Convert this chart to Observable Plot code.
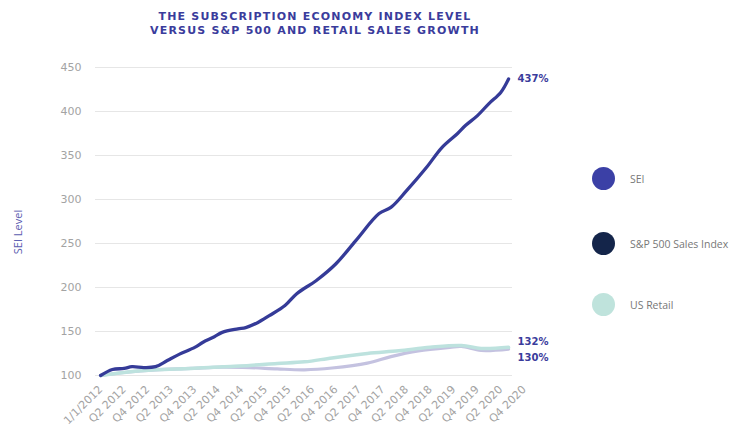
<!DOCTYPE html>
<html>
<head>
<meta charset="utf-8">
<script src="https://cdn.jsdelivr.net/npm/d3@7"></script>
<script src="https://cdn.jsdelivr.net/npm/@observablehq/plot@0.6"></script>
<style>
  html, body { margin: 0; padding: 0; background: #fff; }
  #wrap { position: relative; width: 730px; height: 435px; overflow: hidden; }
  #title { position: absolute; top: 10px; left: 0; width: 630px; text-align: center;
    font-family: "DejaVu Sans", sans-serif; font-weight: 900; font-size: 11px; line-height: 14px;
    letter-spacing: 1.2px; color: #3a3c9c; }
  #chart { position: absolute; top: 40px; left: 0; }
  #ytitle { position: absolute; left: 17px; top: 232px; transform: translate(-50%, -50%) rotate(-90deg);
    font-family: "Open Sans", sans-serif; font-size: 11px; color: #5a5cb0; white-space: nowrap; }
  .leg { position: absolute; left: 592px; display: flex; align-items: center;
    font-family: "Open Sans", sans-serif; font-size: 10.5px; color: #777; white-space: nowrap; }
  .leg span.dot { display: inline-block; width: 23px; height: 23px; border-radius: 50%; margin-right: 15px; }
</style>
</head>
<body>
<div id="wrap">
  <div id="title">THE SUBSCRIPTION ECONOMY INDEX LEVEL<br>VERSUS S&amp;P 500 AND RETAIL SALES GROWTH</div>
  <div id="chart"></div>
  <div id="ytitle">SEI Level</div>
  <div id="legend"></div>
</div>
<script>
// x values are months since 1/1/2012
const xLabels = ["1/1/2012","Q2 2012","Q4 2012","Q2 2013","Q4 2013","Q2 2014","Q4 2014","Q2 2015","Q4 2015",
  "Q2 2016","Q4 2016","Q2 2017","Q4 2017","Q2 2018","Q4 2018","Q2 2019","Q4 2019","Q2 2020","Q4 2020"];
const yTicks = [100, 150, 200, 250, 300, 350, 400, 450];

const seiMonths = [0,3,6,8,11,14,17,20,24,26,29,31,35,37,40,43,47,50,55,60,65,71,74,78,83,87,91,93,96,99,102,104];
const seiValues = [100,106.8,108,110,109,110,117,124,132,137.5,144,149,153,154.5,160,168,179.5,193,208,227,253,284,291,310,336,359,375,384,395,409,421.6,437];

const retailMonths = [0,6,14,23,31,38,45,52,59,68,76,84,92,97,104];
const retailValues = [100,103.4,106.5,108,110,111.5,113.6,115.5,120,125,128,132,134,130.7,132];

const spMonths = [0,6,14,23,31,38,45,52,59,68,74,81,89,92,97,104];
const spValues = [100,103.4,106.5,108,109.5,109,107.5,106.5,108.5,114,121.5,128,132,133,128.5,130];

const seriesNames = ["SEI", "S&P 500 Sales Index", "US Retail"];
const legendColors = ["#3b40a6", "#14254a", "#bfe3dc"];
const endLabels = ["437%", "132%", "130%"];

const sei = seiMonths.map((m, i) => ({m, v: seiValues[i]}));
const retail = retailMonths.map((m, i) => ({m, v: retailValues[i]}));
const sp = spMonths.map((m, i) => ({m, v: spValues[i]}));

const ends = [
  {m: seiMonths.at(-1), v: seiValues.at(-1), t: endLabels[0]},
  {m: retailMonths.at(-1), v: retailValues.at(-1), t: endLabels[1]},
  {m: spMonths.at(-1), v: spValues.at(-1), t: endLabels[2]}
];

const chart = Plot.plot({
  width: 730,
  height: 395,
  marginLeft: 95,
  marginRight: 218,
  marginTop: 27,
  marginBottom: 60,
  style: {fontFamily: "DejaVu Sans, sans-serif", fontSize: "11px", color: "#a3a3a3", background: "#fff"},
  x: {domain: [-1.3, 105], ticks: xLabels.map((_, i) => i * 6), tickFormat: d => xLabels[d / 6],
      tickRotate: -45, tickSize: 0, tickPadding: 12, label: null},
  y: {domain: [100, 450], ticks: yTicks, tickSize: 0, tickPadding: 14, label: null},
  marks: [
    Plot.gridY(yTicks, {stroke: "#e6e6e6", strokeOpacity: 1, strokeWidth: 1}),
    Plot.line(sp, {x: "m", y: "v", stroke: "#c4c2e0", strokeWidth: 3.2, curve: "catmull-rom"}),
    Plot.line(retail, {x: "m", y: "v", stroke: "#bde2de", strokeWidth: 3.5, curve: "catmull-rom"}),
    Plot.line(sei, {x: "m", y: "v", stroke: "#353b98", strokeWidth: 3.3, curve: "catmull-rom"}),
    Plot.text(ends.slice(0, 1), {x: "m", y: "v", text: "t", dx: 9, textAnchor: "start", fill: "#3a3c9c", fontWeight: "bold", fontSize: 10}),
    Plot.text(ends.slice(1, 2), {x: "m", y: "v", text: "t", dx: 9, dy: -6, textAnchor: "start", fill: "#3a3c9c", fontWeight: "bold", fontSize: 10}),
    Plot.text(ends.slice(2, 3), {x: "m", y: "v", text: "t", dx: 9, dy: 9, textAnchor: "start", fill: "#3a3c9c", fontWeight: "bold", fontSize: 10})
  ]
});
document.getElementById("chart").appendChild(chart);

const legendTops = [167, 232, 293];
const legend = document.getElementById("legend");
seriesNames.forEach((name, i) => {
  const row = document.createElement("div");
  row.className = "leg";
  row.style.top = legendTops[i] + "px";
  const dot = document.createElement("span");
  dot.className = "dot";
  dot.style.background = legendColors[i];
  row.appendChild(dot);
  row.appendChild(document.createTextNode(name));
  legend.appendChild(row);
});
</script>
</body>
</html>
